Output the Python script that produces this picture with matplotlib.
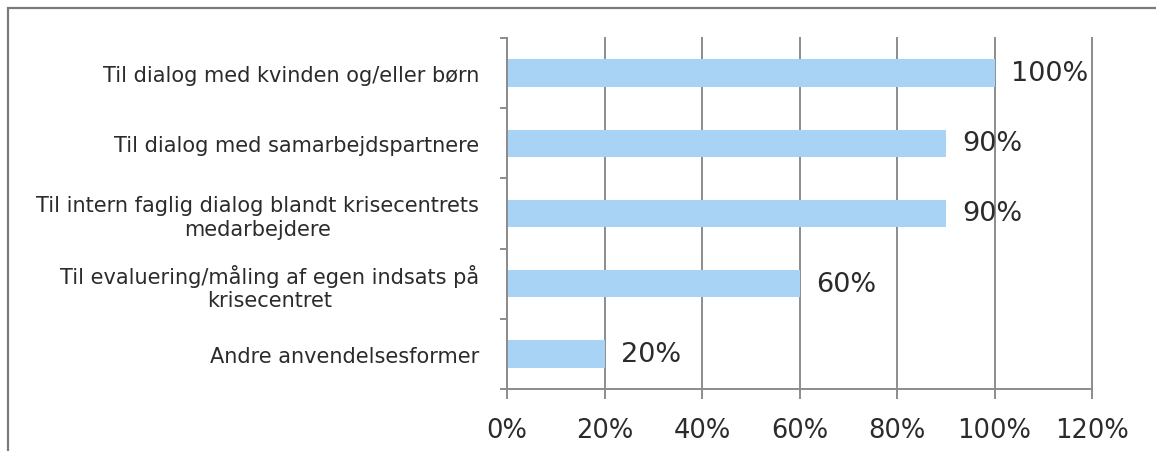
import matplotlib.pyplot as plt
from matplotlib.patches import Rectangle
from matplotlib.ticker import FixedLocator, PercentFormatter

plt.rcParams["font.family"] = ["DejaVu Sans"]

# Anvendelse af resultaterne (andel af krisecentre)
categories = [
    "Til dialog med kvinden og/eller børn",
    "Til dialog med samarbejdspartnere",
    "Til intern faglig dialog blandt krisecentrets\nmedarbejdere",
    "Til evaluering/måling af egen indsats på\nkrisecentret",
    "Andre anvendelsesformer",
]
shares = [100, 90, 90, 60, 20]
x_ticks = [0, 20, 40, 60, 80, 100, 120]

BAR = "#a9d3f5"
GRID = "#8c8c8c"
TEXT = "#2b2b2b"

W, H = 1156, 452
fig = plt.figure(figsize=(W / 100, H / 100), dpi=100)
fig.patch.set_facecolor("white")

# ydre ramme (kun venstre og top synlige)
fig.add_artist(Rectangle((8 / W, -0.1), 1.2, (H - 9) / H + 0.1,
                         transform=fig.transFigure, fill=False,
                         edgecolor="#7a7a7a", linewidth=1.6))

ax = fig.add_axes([507 / W, 1 - 390 / H, (1092 - 507) / W, (390 - 39) / H])

y = list(range(len(categories)))
ax.barh(y, shares, height=0.39, color=BAR, zorder=2)
ax.set_ylim(len(categories) - 0.5, -0.5)
ax.set_xlim(0, 120)

for yi, v in zip(y, shares):
    ax.text(v + 3.4, yi, f"{v}%", va="center", ha="left",
            fontsize=19.5, color=TEXT, zorder=3)

ax.set_xticks(x_ticks)
ax.xaxis.set_major_formatter(PercentFormatter(decimals=0))
ax.grid(axis="x", color=GRID, linewidth=1.4, zorder=1)
for gl in ax.get_xgridlines():
    gl.set_clip_on(False)
ax.tick_params(axis="x", direction="out", length=7, width=1.4, color=GRID,
               labelsize=18.5, labelcolor=TEXT, pad=13)

ax.set_yticks(y)
ax.set_yticklabels(categories, fontsize=15, color=TEXT,
                   multialignment="center")
ax.tick_params(axis="y", which="major", length=0, pad=20)
ax.yaxis.set_minor_locator(FixedLocator([i - 0.5 for i in range(len(categories) + 1)]))
ax.tick_params(axis="y", which="minor", direction="out", length=5,
               width=1.4, color=GRID)

for side in ("top", "right"):
    ax.spines[side].set_visible(False)
for side in ("left", "bottom"):
    ax.spines[side].set_color(GRID)
    ax.spines[side].set_linewidth(1.4)
ax.set_facecolor("none")

fig.savefig("out.png", dpi=100)
